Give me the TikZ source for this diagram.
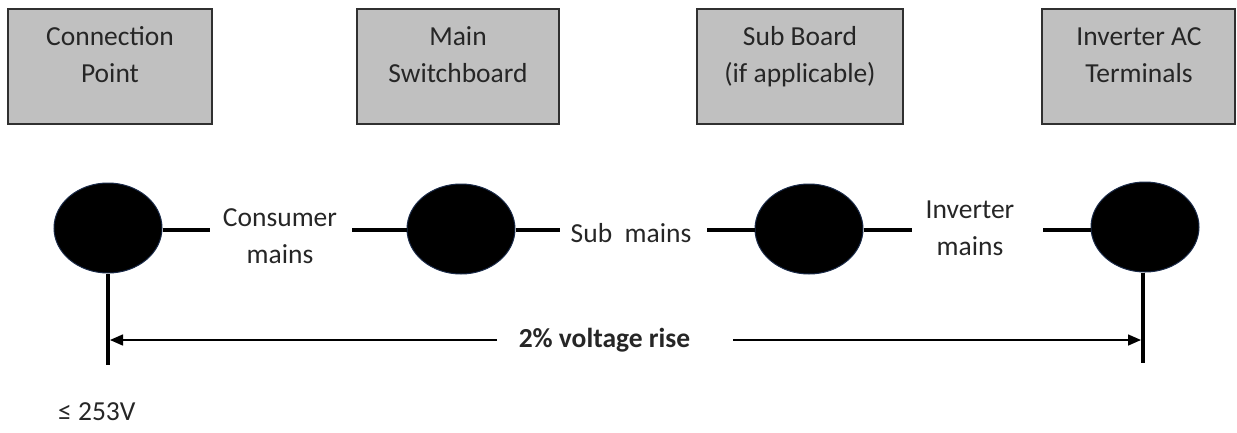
\documentclass[tikz,border=0pt]{standalone}
\usepackage{fontspec}
\setmainfont{Carlito}
\usetikzlibrary{shapes.geometric,arrows.meta}
\definecolor{boxfill}{HTML}{C0C0C0}
\definecolor{boxline}{HTML}{303030}
\definecolor{txt}{HTML}{262626}
\definecolor{navy}{HTML}{1A2A48}
\begin{document}
\begin{tikzpicture}[x=1pt,y=-1pt,
  font=\fontsize{27.5}{37}\selectfont,
  box/.style={draw=boxline, line width=1.8pt, fill=boxfill, minimum height=115pt, inner sep=0pt},
  boxtext/.style={align=center, text=txt, inner sep=0pt},
  lbl/.style={align=center, text=txt, inner sep=0pt},
  dot/.style={ellipse, fill=black, draw=navy, line width=1pt, minimum width=108pt, minimum height=90pt, inner sep=0pt},
  wire/.style={line width=4pt},
  dim/.style={line width=1.5pt, -{Triangle[length=13pt,width=11pt]}}]
\useasboundingbox (0,0) rectangle (1237,432);

% top boxes
\node[box, minimum width=204pt] (b1) at (110,66.5) {};
\node[box, minimum width=202pt] (b2) at (458,66.5) {};
\node[box, minimum width=206pt] (b3) at (800,66.5) {};
\node[box, minimum width=193pt] (b4) at (1138.5,66.5) {};
\node[boxtext] (b1t) at (110,57) {\strut Connection\\\strut Point};
\node[boxtext] (b2t) at (458,57) {\strut Main\\\strut Switchboard};
\node[boxtext] (b3t) at (800,57) {\strut Sub Board\\\strut (if applicable)};
\node[boxtext] (b4t) at (1139,57) {\strut Inverter AC\\\strut Terminals};

% circles
\node[dot] (c1) at (108,228) {};
\node[dot] (c2) at (461,229) {};
\node[dot] (c3) at (809,229) {};
\node[dot] (c4) at (1145,227) {};

% labels
\node[lbl] (cm) at (280,238) {\strut Consumer\\\strut mains};
\node[lbl] (sm) at (631,235) {\strut Sub\ \ mains};
\node[lbl] (im) at (970,230) {\strut Inverter\\\strut mains};

% wire ends
\coordinate (w1) at (210,230);
\coordinate (w2) at (352,230);
\coordinate (w3) at (560,230);
\coordinate (w4) at (707,230);
\coordinate (w5) at (912,230);
\coordinate (w6) at (1043,230);

\draw[wire] (c1.east |- w1) -- (w1);
\draw[wire] (w2) -- (c2.west |- w2);
\draw[wire] (c2.east |- w3) -- (w3);
\draw[wire] (w4) -- (c3.west |- w4);
\draw[wire] (c3.east |- w5) -- (w5);
\draw[wire] (w6) -- (c4.west |- w6);

% vertical ticks
\coordinate (t1) at (108,365);
\coordinate (t4) at (1143,363);
\draw[wire] (c1.south) -- (t1);
\draw[wire] (c4.south -| t4) -- (t4);

% dimension arrow
\node[lbl, font=\fontsize{27.5}{37}\selectfont\bfseries] (rise) at (604.5,340.5) {\strut 2\% voltage rise};
\coordinate (gl) at (497,340);
\coordinate (gr) at (733,340);
\coordinate (al) at (110,340);
\coordinate (ar) at (1141,340);
\draw[dim] (gl) -- (al);
\draw[dim] (gr) -- (ar);

\node[lbl, anchor=west] (v) at (58,412.6) {\strut ≤ 253V};
\end{tikzpicture}
\end{document}
